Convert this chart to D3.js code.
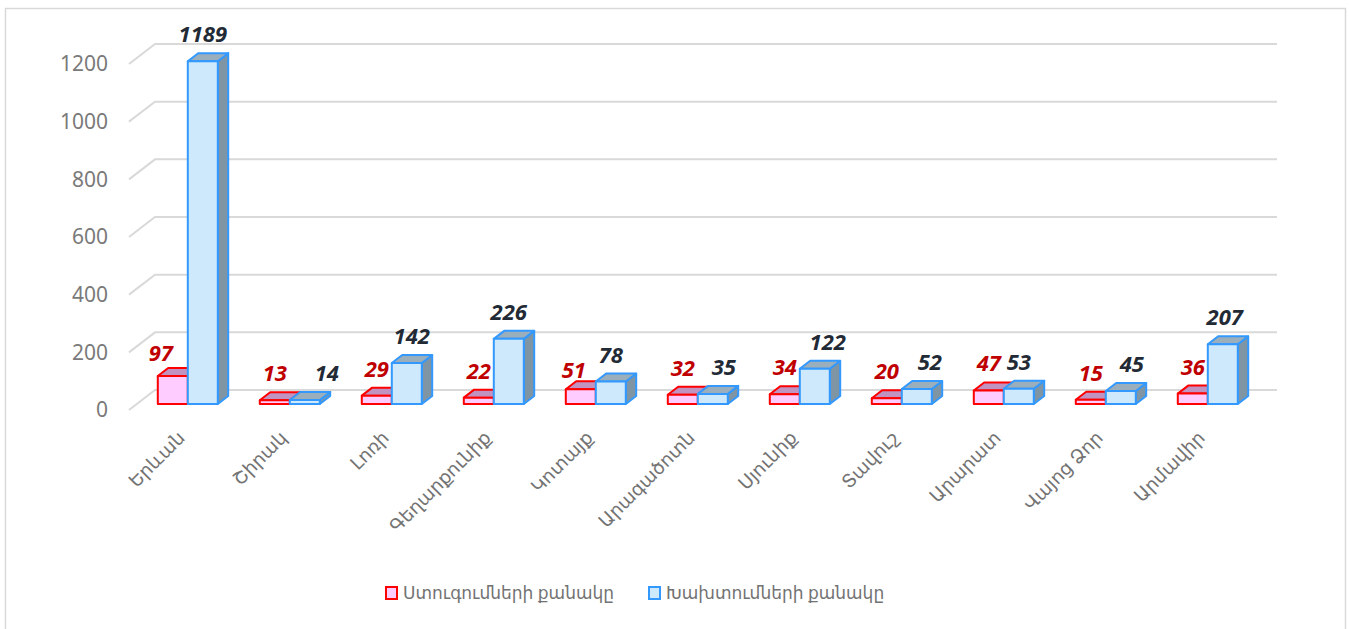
<!doctype html>
<html lang="hy">
<head>
<meta charset="UTF-8">
<title>Chart</title>
<script src="https://d3js.org/d3.v7.min.js"></script>
<style>
  body { margin: 0; background: #fff; }
  svg { display: block; }
  text { font-family: "Noto Sans", "DejaVu Sans", sans-serif; }
</style>
</head>
<body>
<div id="chart"></div>
<script>
  // data
  const regions = ['Երևան', 'Շիրակ', 'Լոռի', 'Գեղարքունիք', 'Կոտայք', 'Արագածոտն',
    'Սյունիք', 'Տավուշ', 'Արարատ', 'Վայոց Ձոր', 'Արմավիր'];
  const inspections = [97, 13, 29, 22, 51, 32, 34, 20, 47, 15, 36];
  const violations = [1189, 14, 142, 226, 78, 35, 122, 52, 53, 45, 207];
  const seriesNames = ['Ստուգումների քանակը', 'Խախտումների քանակը'];
  const yTicks = [0, 200, 400, 600, 800, 1000, 1200];

  const width = 1349, height = 629;

  // 3d box: front floor line, depth vector to the back wall
  const floorY = 410;
  const depth = { dx: 26, dy: -20 };
  const barFront = 0.3, barBack = 0.7;

  const styles = [
    { front: '#ffccff', top: '#c093c0', side: '#c093c0', stroke: '#ff0000', label: '#c00000' },
    { front: '#cde9fb', top: '#9aaebb', side: '#7f95a3', stroke: '#3399ff', label: '#222a35' }
  ];

  // label nudges where the labels were moved apart
  const nudge = {
    '0-0': [-12, 4], '0-4': [-7, 8],
    '1-1': [22, 0], '1-2': [5, 0], '1-5': [11, 0], '1-6': [13, 0], '1-7': [13, 0], '1-9': [11, 0], '1-10': [2, 0]
  };

  const svg = d3.select('#chart').append('svg')
    .attr('width', width)
    .attr('height', height);

  // outer frame
  svg.append('rect')
    .attr('x', 5.5).attr('y', 8.5)
    .attr('width', 1340).attr('height', 640)
    .attr('fill', 'none')
    .attr('stroke', '#d9d9d9')
    .attr('stroke-width', 1.5);

  const xScale = d3.scaleBand()
    .domain(regions)
    .range([129, 1251]);

  const hScale = d3.scaleLinear()
    .domain([0, 1200])
    .range([0, 346]);

  const P = (x, v, t) => [x + t * depth.dx, floorY - hScale(v) + t * depth.dy];

  // gridlines: diagonal on the side wall, horizontal on the back wall
  const grid = svg.append('g');
  const x0 = xScale.range()[0], x1 = xScale.range()[1];
  yTicks.forEach(v => {
    const a = P(x0, v, 0), b = P(x0, v, 1), c = P(x1, v, 1);
    grid.append('polyline')
      .attr('points', [a, b, c].map(p => p.join(',')).join(' '))
      .attr('fill', 'none')
      .attr('stroke', '#d9d9d9')
      .attr('stroke-width', 2);
  });

  svg.append('g').selectAll('text')
    .data(yTicks)
    .join('text')
    .attr('x', 108)
    .attr('y', d => P(x0, d, 0)[1])
    .attr('dy', '0.35em')
    .attr('text-anchor', 'end')
    .attr('font-size', 21)
    .attr('fill', '#7a7a7a')
    .text(d => d);

  const barW = 30;
  const pairOffset = (xScale.bandwidth() - barW * 2) / 2;
  const bars = svg.append('g');
  const labels = svg.append('g');

  function drawBox(x, v, st) {
    const fbl = P(x, 0, barFront), fbr = P(x + barW, 0, barFront);
    const ftl = P(x, v, barFront), ftr = P(x + barW, v, barFront);
    const btl = P(x, v, barBack), btr = P(x + barW, v, barBack);
    const bbr = P(x + barW, 0, barBack);
    const poly = (pts, fill) => bars.append('polygon')
      .attr('points', pts.map(p => p.join(',')).join(' '))
      .attr('fill', fill)
      .attr('stroke', st.stroke)
      .attr('stroke-width', 2)
      .attr('stroke-linejoin', 'round');
    poly([fbr, ftr, btr, bbr], st.side);
    poly([ftl, ftr, btr, btl], st.top);
    poly([fbl, fbr, ftr, ftl], st.front);
  }

  regions.forEach((r, i) => {
    [inspections, violations].forEach((series, s) => {
      const x = xScale(r) + pairOffset + s * barW;
      const v = series[i];
      drawBox(x, v, styles[s]);
      const n = nudge[s + '-' + i] || [0, 0];
      const top = P(x + barW / 2, v, barFront);
      labels.append('text')
        .attr('x', top[0] + n[0])
        .attr('y', top[1] - 19 + n[1])
        .attr('text-anchor', 'middle')
        .attr('font-size', 22)
        .attr('font-weight', 'bold')
        .attr('font-style', 'italic')
        .attr('fill', styles[s].label)
        .text(v);
    });
  });

  // category labels, rotated
  svg.append('g').selectAll('text')
    .data(regions)
    .join('text')
    .attr('transform', d => {
      const cx = xScale(d) + xScale.bandwidth() / 2 + 6;
      return `translate(${cx},439) rotate(-45)`;
    })
    .attr('text-anchor', 'end')
    .attr('font-size', 18.5)
    .attr('fill', '#737373')
    .text(d => d);

  // legend
  const legend = svg.append('g');
  const legendX = [386, 649];
  seriesNames.forEach((name, s) => {
    legend.append('rect')
      .attr('x', legendX[s]).attr('y', 587)
      .attr('width', 11).attr('height', 12)
      .attr('fill', styles[s].front)
      .attr('stroke', styles[s].stroke)
      .attr('stroke-width', 2);
    legend.append('text')
      .attr('x', legendX[s] + 17)
      .attr('y', 599)
      .attr('font-size', 17)
      .attr('fill', '#737373')
      .text(name);
  });
</script>
</body>
</html>
